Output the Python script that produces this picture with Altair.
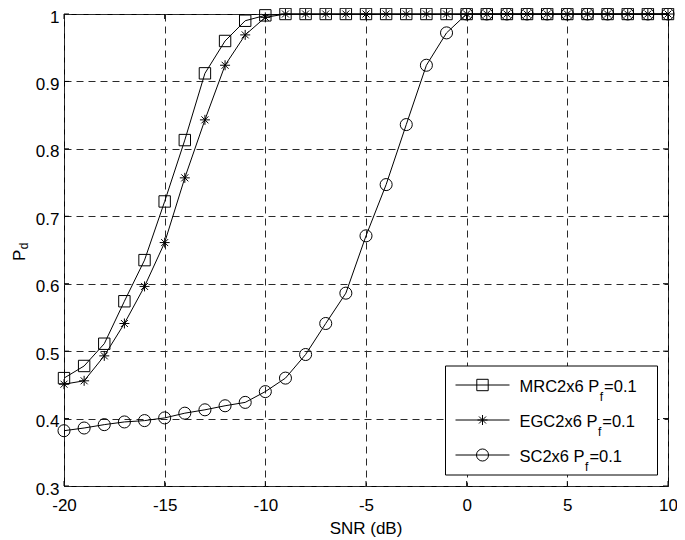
import altair as alt
import pandas as pd

# ---------------- data ----------------
snr = list(range(-20, 11))
mrc = [0.460, 0.478, 0.511, 0.574, 0.635, 0.722, 0.813, 0.912, 0.960, 0.990, 0.998,
       1.0, 1.0, 1.0, 1.0, 1.0, 1.0, 1.0, 1.0, 1.0, 1.0,
       1.0, 1.0, 1.0, 1.0, 1.0, 1.0, 1.0, 1.0, 1.0, 1.0]
egc = [0.451, 0.456, 0.493, 0.541, 0.596, 0.661, 0.757, 0.843, 0.924, 0.969, 0.995,
       1.0, 1.0, 1.0, 1.0, 1.0, 1.0, 1.0, 1.0, 1.0, 1.0,
       1.0, 1.0, 1.0, 1.0, 1.0, 1.0, 1.0, 1.0, 1.0, 1.0]
sc = [0.382, 0.386, 0.391, 0.395, 0.397, 0.401, 0.408, 0.413, 0.419, 0.424, 0.440,
      0.460, 0.495, 0.541, 0.586, 0.671, 0.747, 0.836, 0.924, 0.972,
      1.0, 1.0, 1.0, 1.0, 1.0, 1.0, 1.0, 1.0, 1.0, 1.0, 1.0]
series_names = ["MRC2x6", "EGC2x6", "SC2x6"]
legend_prefix = ["MRC2x6 P", "EGC2x6 P", "SC2x6 P"]
legend_sub = "f"
legend_suffix = "=0.1"
x_ticks = [-20, -15, -10, -5, 0, 5, 10]
y_ticks = [0.3, 0.4, 0.5, 0.6, 0.7, 0.8, 0.9, 1.0]
x_title = "SNR (dB)"
y_title_main = "P"
y_title_sub = "d"

# ---------------- layout ----------------
W, H = 604, 472
FONT = "Liberation Sans"
FS = 17
LFS = 16.5
SUB_FS = 12
STAR = "M0,-1L0,1M-1,0L1,0M-0.7,-0.7L0.7,0.7M-0.7,0.7L0.7,-0.7"
shapes = ["square", STAR, "circle"]
sizes = [130, 100, 145]

# Arial/Helvetica advance widths (per 1000 em) for placing subscripts
ADV = {"M": 833, "R": 722, "C": 722, "E": 667, "G": 778, "S": 667, "2": 556,
       "x": 500, "6": 556, " ": 278, "P": 667, "f": 278, "=": 584, "0": 556,
       ".": 278, "1": 556, "d": 556}


def tw(s, fs):
    return sum(ADV.get(c, 556) for c in s) * fs / 1000.0


df = pd.DataFrame({
    "snr": snr * 3,
    "pd": mrc + egc + sc,
    "series": [n for n in series_names for _ in snr],
})

xs = alt.Scale(domain=[-20, 10], nice=False, zero=False)
ys = alt.Scale(domain=[0.3, 1.0], nice=False, zero=False)

common_axis = dict(
    grid=True, ticks=False, tickSize=0, domain=False,
    labelFontSize=FS, labelFont=FONT, labelColor="black",
    labelFlush=False, labelOverlap=False, labelExpr="'' + datum.value",
    title=None, gridColor="#2a2a2a", gridDash=[7, 5], gridWidth=1,
)
xaxis = alt.Axis(values=x_ticks, labelPadding=11, **common_axis)
yaxis = alt.Axis(values=y_ticks, labelPadding=5, labelOffset=3, **common_axis)

layers = []
for i, name in enumerate(series_names):
    sub = df[df["series"] == name]
    base = alt.Chart(sub).encode(
        x=alt.X("snr:Q", scale=xs, axis=xaxis),
        y=alt.Y("pd:Q", scale=ys, axis=yaxis),
    )
    layers.append(base.mark_line(color="black", strokeWidth=1))
    layers.append(base.mark_point(shape=shapes[i], size=sizes[i], filled=False,
                                  color="black", strokeWidth=1, opacity=1))

# inward ticks on all four sides
xt = pd.DataFrame({"v": x_ticks})
yt = pd.DataFrame({"v": y_ticks})
for y0, y1 in [(H, H - 5), (0, 5)]:
    layers.append(alt.Chart(xt).mark_rule(color="black", strokeWidth=1).encode(
        x=alt.X("v:Q", scale=xs, axis=xaxis), y=alt.value(y0), y2=alt.value(y1)))
for x0, x1 in [(0, 5), (W, W - 5)]:
    layers.append(alt.Chart(yt).mark_rule(color="black", strokeWidth=1).encode(
        y=alt.Y("v:Q", scale=ys, axis=yaxis), x=alt.value(x0), x2=alt.value(x1)))

one = pd.DataFrame({"a": [0]})

# legend box (anchored to the right / bottom of the frame)
LX1 = W - 10.5
LX0 = LX1 - 212
LY1 = H - 11
LY0 = LY1 - 109
layers.append(alt.Chart(one).mark_rect(fill="white", stroke="black", strokeWidth=1).encode(
    x=alt.value(LX0), x2=alt.value(LX1), y=alt.value(LY0), y2=alt.value(LY1)))
rows = [LY0 + 19, LY0 + 54, LY0 + 89]
TX = LX0 + 74
for i in range(3):
    ly = rows[i]
    layers.append(alt.Chart(one).mark_rule(color="black", strokeWidth=1).encode(
        x=alt.value(LX0 + 10), x2=alt.value(LX0 + 64), y=alt.value(ly)))
    layers.append(alt.Chart(one).mark_point(shape=shapes[i], size=sizes[i], filled=False,
                                            color="black", strokeWidth=1, opacity=1).encode(
        x=alt.value(LX0 + 37), y=alt.value(ly)))
    w1 = tw(legend_prefix[i], LFS)
    layers.append(alt.Chart(one).mark_text(text=legend_prefix[i], font=FONT, fontSize=LFS,
                                           align="left", baseline="alphabetic", color="black").encode(
        x=alt.value(TX), y=alt.value(ly + 7)))
    layers.append(alt.Chart(one).mark_text(text=legend_sub, font=FONT, fontSize=SUB_FS,
                                           align="left", baseline="alphabetic", color="black").encode(
        x=alt.value(TX + w1 + 0.5), y=alt.value(ly + 16)))
    layers.append(alt.Chart(one).mark_text(text=legend_suffix, font=FONT, fontSize=LFS,
                                           align="left", baseline="alphabetic", color="black").encode(
        x=alt.value(TX + w1 + tw(legend_sub, SUB_FS) + 1.5), y=alt.value(ly + 7)))

# axis titles
layers.append(alt.Chart(one).mark_text(text=x_title, font=FONT, fontSize=FS, align="center",
                                       baseline="alphabetic", color="black").encode(
    x=alt.value(W / 2), y=alt.value(H + 48)))
PY = H / 2 + 11
layers.append(alt.Chart(one).mark_text(text=y_title_main, font=FONT, fontSize=FS, angle=270,
                                       align="left", baseline="alphabetic", color="black").encode(
    x=alt.value(-39), y=alt.value(PY)))
layers.append(alt.Chart(one).mark_text(text=y_title_sub, font=FONT, fontSize=SUB_FS, angle=270,
                                       align="left", baseline="alphabetic", color="black").encode(
    x=alt.value(-36), y=alt.value(PY - tw(y_title_main, FS) - 0.5)))

chart = alt.layer(*layers).properties(
    width=W, height=H,
    autosize=alt.AutoSizeParams(type="none"),
    padding={"left": 56, "top": 6, "right": 9, "bottom": 52},
    background="white",
).configure_view(stroke="black", strokeWidth=1)

chart.save("out.html", embed_options={"renderer": "svg", "actions": False})
